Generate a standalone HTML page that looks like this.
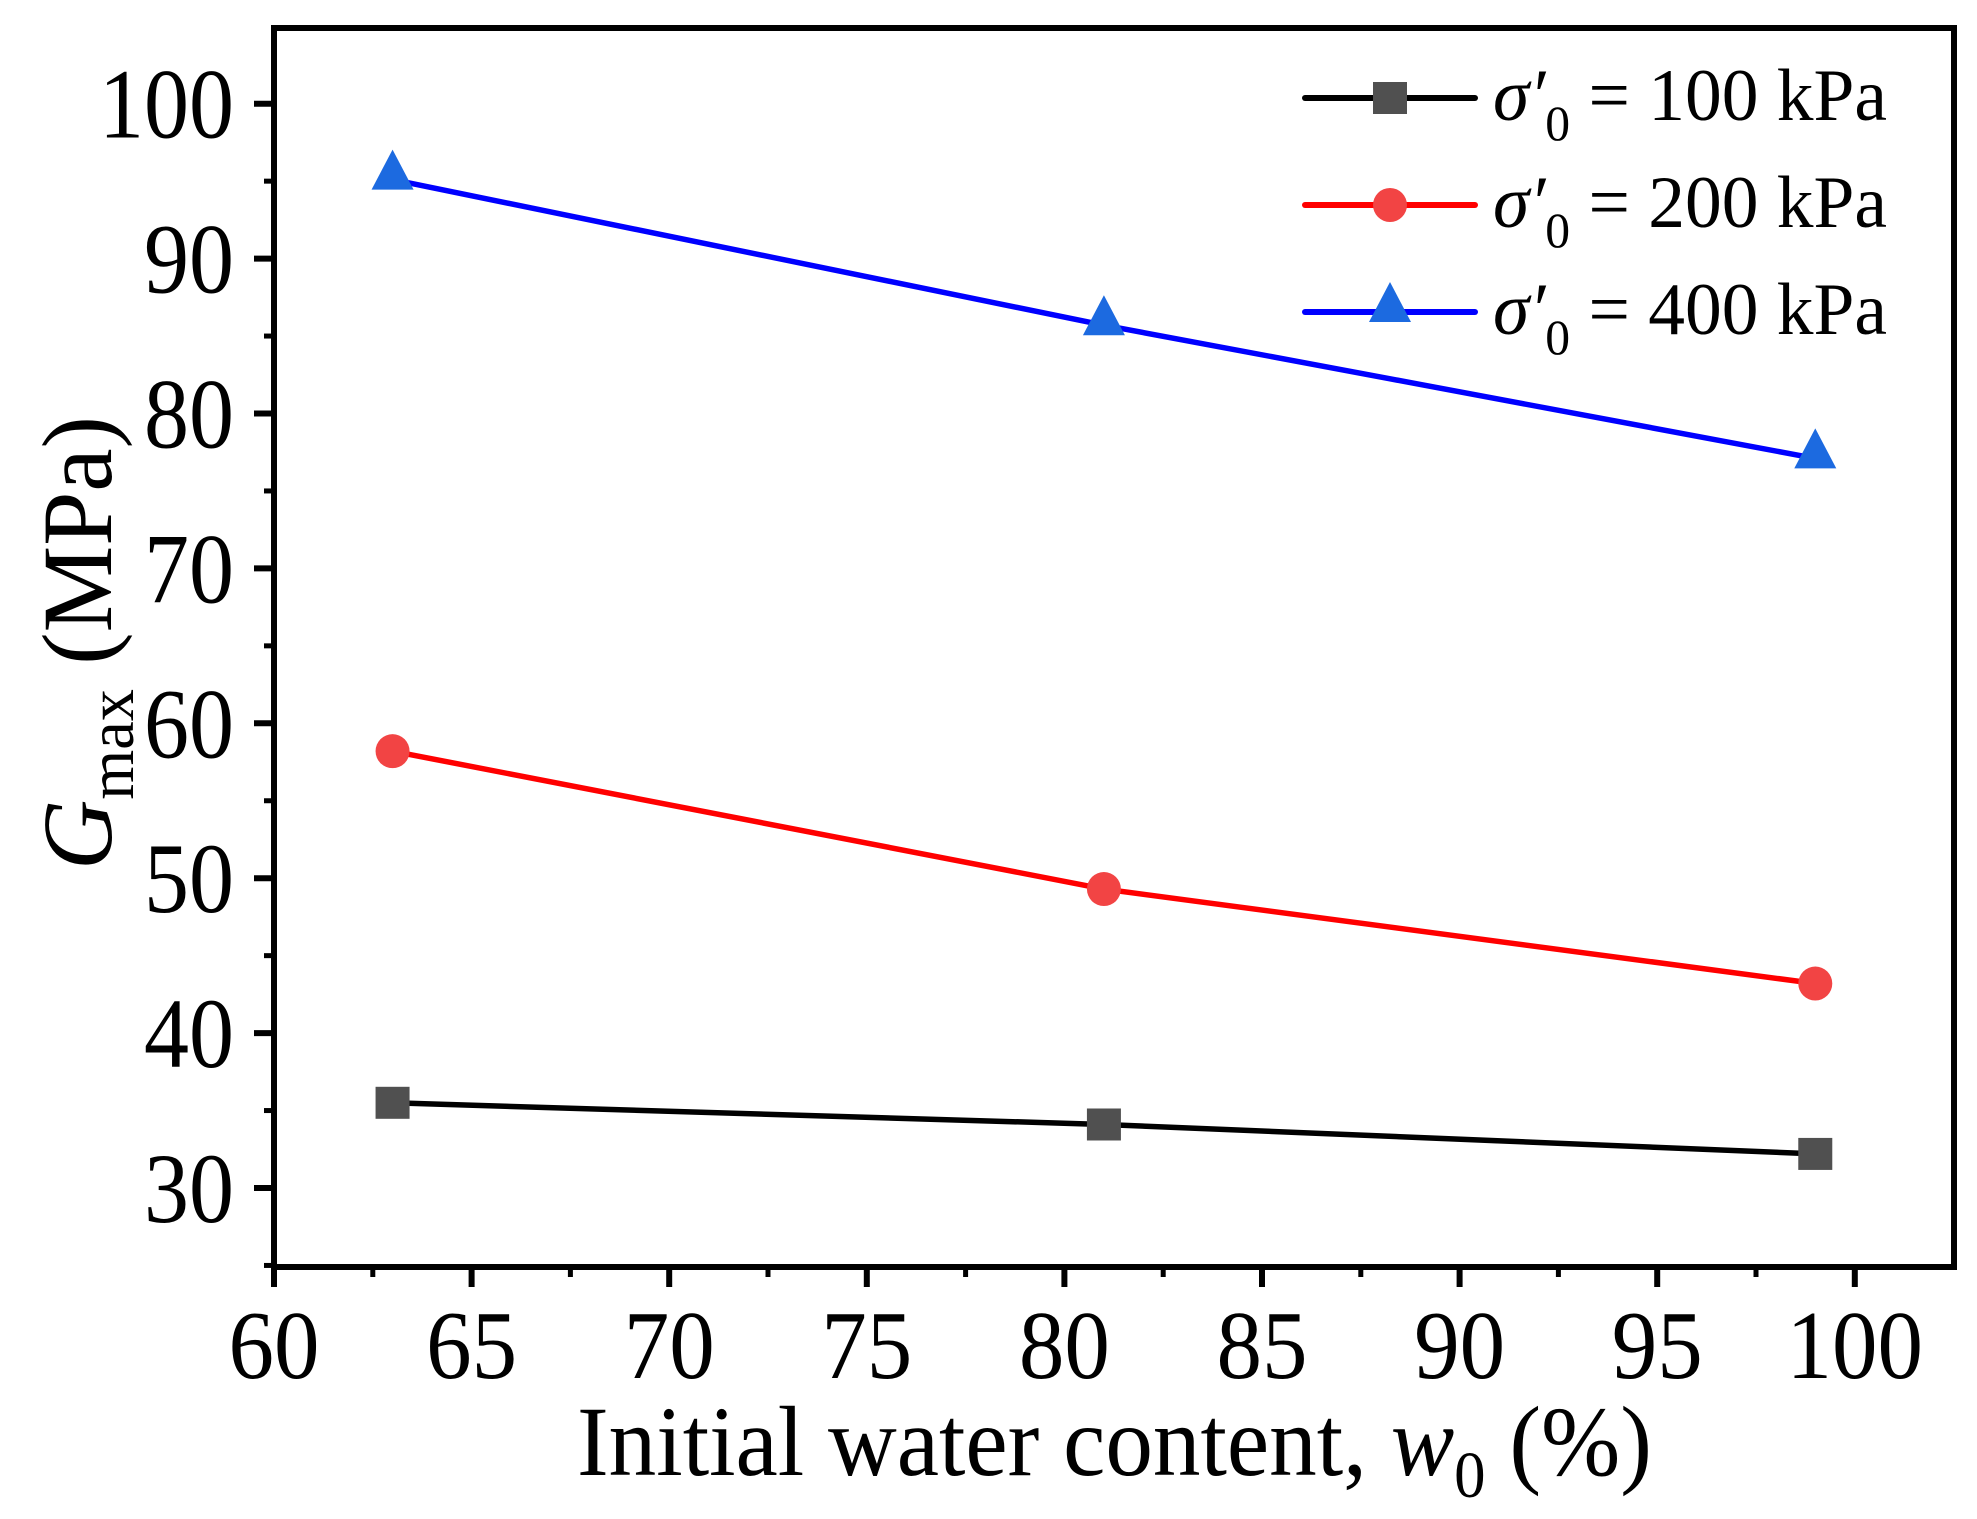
<!DOCTYPE html>
<html><head><meta charset="utf-8"><style>
html,body{margin:0;padding:0;background:#fff;}
svg{display:block;font-family:"Liberation Serif",serif;}
</style></head><body>
<svg id="chart" width="1977" height="1519" viewBox="0 0 1977 1519" xmlns="http://www.w3.org/2000/svg">
<g id="axes"></g>
<g id="series"></g>
<g id="legend"></g>
<text x="577" y="1475" font-size="100" textLength="1075" lengthAdjust="spacingAndGlyphs">Initial water content, <tspan font-style="italic">w</tspan><tspan font-size="66" dy="22">0</tspan><tspan dy="-22"> (%)</tspan></text>
<text transform="translate(111,870) rotate(-90)" font-size="100" textLength="454" lengthAdjust="spacingAndGlyphs"><tspan font-style="italic">G</tspan><tspan font-size="66" dy="22">max</tspan><tspan dy="-22"> (MPa)</tspan></text>
</svg>
<script>
const xValues = [63, 81, 99];
const s100 = [35.5, 34.1, 32.2];
const s200 = [58.2, 49.3, 43.2];
const s400 = [95.1, 85.7, 77.1];
const xTicks = [60, 65, 70, 75, 80, 85, 90, 95, 100];
const yTicks = [30, 40, 50, 60, 70, 80, 90, 100];
const legendLabels = ["100", "200", "400"];

const NS = "http://www.w3.org/2000/svg";
const L = 274, R = 1954, T = 28, B = 1267;
const X0 = 60, Y0 = 30;
function xs(v){ return 274 + (v - X0) * 39.52; }
function ys(v){ return 1188 - (v - Y0) * 15.49; }
function mk(tag, attrs, parent){ const e = document.createElementNS(NS, tag); for (const k in attrs) e.setAttribute(k, attrs[k]); parent.appendChild(e); return e; }

const axes = document.getElementById('axes');
const frame = mk('rect', {x:L, y:T, width:R-L, height:B-T, fill:'none', stroke:'#000', 'stroke-width':6}, axes);


xTicks.forEach((t, i) => {
  const x = xs(t);
  const tk = mk('line', {x1:x, x2:x, y1:B, y2:B+20, stroke:'#000', 'stroke-width':6}, axes);
  
  
  const lb = mk('text', {x:x, y:1378, 'font-size':98, 'text-anchor':'middle', textLength: String(t).length*45.5, lengthAdjust:'spacingAndGlyphs'}, axes);
  lb.textContent = t;
  
  
  if (i < xTicks.length - 1) {
    const mx = xs(t + 2.5);
    const mn = mk('line', {x1:mx, x2:mx, y1:B, y2:B+10, stroke:'#000', 'stroke-width':5}, axes);
    
    
  }
});
yTicks.forEach((t, i) => {
  const y = ys(t);
  const tk = mk('line', {x1:L-20, x2:L, y1:y, y2:y, stroke:'#000', 'stroke-width':6}, axes);
  
  
  const lb = mk('text', {x:234, y:y+34, 'font-size':100, 'text-anchor':'end', textLength: String(t).length*45, lengthAdjust:'spacingAndGlyphs'}, axes);
  lb.textContent = t;
  
  
});
[25, 35, 45, 55, 65, 75, 85, 95].forEach(t => {
  const y = ys(t);
  const mn = mk('line', {x1:L-10, x2:L, y1:y, y2:y, stroke:'#000', 'stroke-width':5}, axes);
  
  
});

const seriesG = document.getElementById('series');
function marker(kind, cx, cy, parent){
  let m;
  if (kind === 'square') m = mk('rect', {x:cx-17, y:cy-16, width:34, height:32, fill:'#505050'}, parent);
  else if (kind === 'circle') m = mk('ellipse', {cx:cx, cy:cy, rx:17, ry:17, fill:'#f24444'}, parent);
  else m = mk('polygon', {points:`${cx},${cy-30} ${cx+21},${cy+10} ${cx-21},${cy+10}`, fill:'#1c6ae0'}, parent);
  return m;
}
const seriesDefs = [
  {name:'series-100kpa', vals:s100, color:'#000', kind:'square'},
  {name:'series-200kpa', vals:s200, color:'#ff0000', kind:'circle'},
  {name:'series-400kpa', vals:s400, color:'#0000ff', kind:'triangle'}
];
seriesDefs.forEach(s => {
  const g = mk('g', {}, seriesG);
  
  
  const pts = xValues.map((x, i) => xs(x) + ',' + ys(s.vals[i])).join(' ');
  const pl = mk('polyline', {points:pts, fill:'none', stroke:s.color, 'stroke-width':5.5}, g);
  
  
  xValues.forEach((x, i) => {
    const m = marker(s.kind, xs(x), ys(s.vals[i]), g);
    
    
  });
});

const legend = document.getElementById('legend');
const legY = [98, 205, 312];
seriesDefs.forEach((s, i) => {
  const g = mk('g', {}, legend);
  
  
  mk('line', {x1:1305, x2:1475, y1:legY[i], y2:legY[i], stroke:s.color, 'stroke-width':6, 'stroke-linecap':'round'}, g);
  marker(s.kind, 1390, legY[i], g);
  const t = mk('text', {x:1493, y:legY[i]+22, 'font-size':74}, g);
  t.innerHTML = '<tspan font-style="italic">σ′</tspan><tspan font-size="50" dy="20">0</tspan><tspan dy="-20"> = ' + legendLabels[i] + ' kPa</tspan>';
  t.setAttribute('textLength', '394');
  t.setAttribute('lengthAdjust', 'spacingAndGlyphs');
  
  
});
</script>
</body></html>
